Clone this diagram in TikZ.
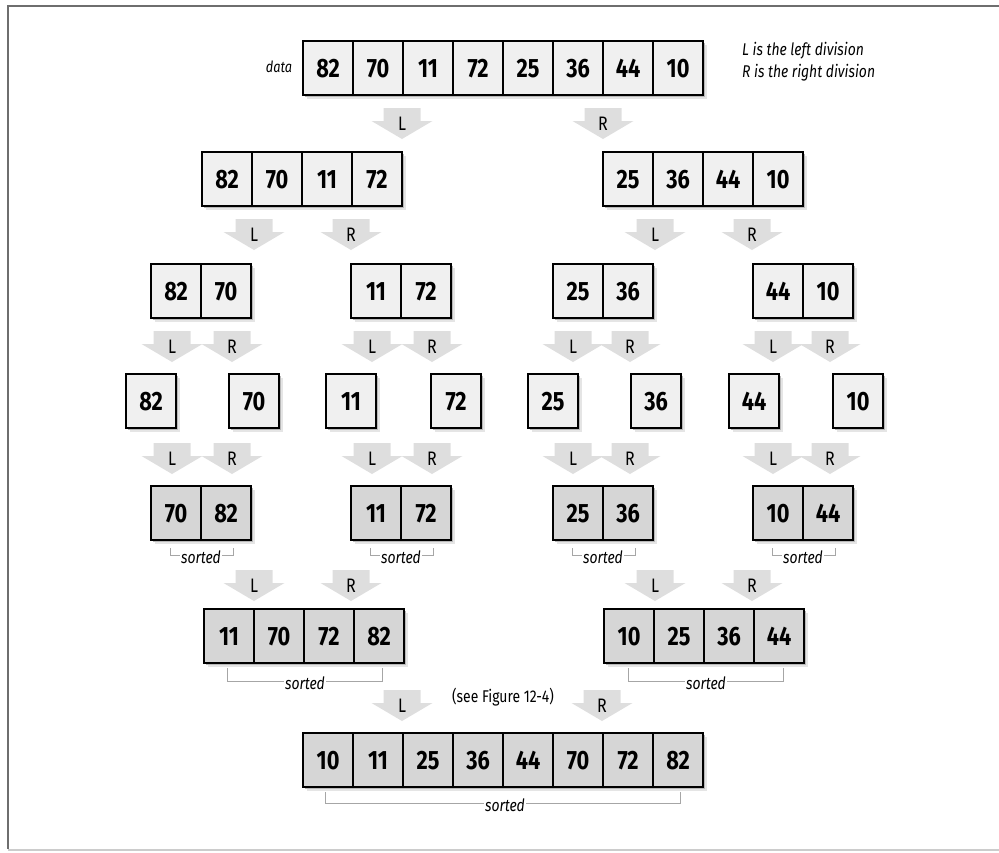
\documentclass[tikz,border=0pt]{standalone}
\usepackage{fontspec}
\setmainfont{Fira Sans}[FakeStretch=0.82]
\usepackage{xcolor}
\usetikzlibrary{positioning}

\definecolor{cellgray}{HTML}{F0F0F0}
\definecolor{sortgray}{HTML}{D6D6D6}
\definecolor{arrowgray}{HTML}{DEDEDE}
\definecolor{framegray}{HTML}{6E6E6E}

\tikzset{
  cell/.style={draw, line width=2.2pt, minimum width=50pt, minimum height=54pt,
    inner sep=0pt, anchor=north west, font=\fontsize{26.5}{26.5}\selectfont\bfseries},
  arrowlabel/.style={inner sep=0pt, font=\fontsize{19.5}{19.5}\selectfont},
  sortline/.style={draw=black!35, line width=0.9pt},
  sortlabel/.style={fill=white, inner sep=1pt, font=\fontsize{17}{17}\selectfont\itshape},
  legendtext/.style={anchor=west, inner sep=0pt, font=\fontsize{17}{17}\selectfont\itshape},
  pics/splitarrow/.style={code={
    \fill[arrowgray] (-18.5,0) -- (18.5,0) -- (18.5,13) -- (30.5,13) -- (0,31)
      -- (-30.5,13) -- (-18.5,13) -- cycle;
    \node[arrowlabel] (-lbl) at (0,16) {#1};
  }}
}

% one array: name, left x, top y, fill, entries
\newcommand{\cellrow}[5]{%
  \foreach \v [count=\i] in {#5}
    \fill[black!10] (#2+50*\i-50+5, #3+5) rectangle ++(50,54);
  \foreach \v [count=\i] in {#5}
    \fill[black!28] (#2+50*\i-50+3, #3+3) rectangle ++(50,54);
  \foreach \v [count=\i] in {#5}
    \node[cell, fill=#4] (#1-\i) at (#2+50*\i-50, #3) {\v};
}

\begin{document}
\begin{tikzpicture}[x=1pt, y=-1pt]
  \useasboundingbox (0,0) rectangle (999,852);
  % frame
  \draw[framegray, line width=2.5pt] (999,6) -- (8,6) -- (8,849);
  \draw[black!20, line width=2pt] (8,850) -- (999,850);

  % unsorted data
  \node[font=\fontsize{15.5}{15.5}\selectfont\itshape] (datalbl) at (279,67) {data};
  \cellrow{r1}{302}{40}{cellgray}{82,70,11,72,25,36,44,10}
  \node[legendtext] (legendL) at (742,51) {L is the left division};
  \node[legendtext] (legendR) at (742,73) {R is the right division};
  \pic (a1l) at (402,108) {splitarrow=L};
  \pic (a1r) at (603,108) {splitarrow=R};

  % halves
  \cellrow{r2a}{201}{151}{cellgray}{82,70,11,72}
  \cellrow{r2b}{602}{151}{cellgray}{25,36,44,10}
  \foreach \x/\s [count=\k] in {254/L,351/R,655/L,752/R}
    \pic (a2-\k) at (\x,219) {splitarrow=\s};

  % quarters
  \cellrow{r3a}{150}{263}{cellgray}{82,70}
  \cellrow{r3b}{350}{263}{cellgray}{11,72}
  \cellrow{r3c}{552}{263}{cellgray}{25,36}
  \cellrow{r3d}{752}{263}{cellgray}{44,10}
  \foreach \x/\s [count=\k] in {172/L,232/R,372/L,432/R,573/L,630/R,773/L,830/R}
    \pic (a3-\k) at (\x,331) {splitarrow=\s};

  % single elements
  \cellrow{r4a}{125}{373}{cellgray}{82}
  \cellrow{r4b}{228}{373}{cellgray}{70}
  \cellrow{r4c}{325}{373}{cellgray}{11}
  \cellrow{r4d}{430}{373}{cellgray}{72}
  \cellrow{r4e}{527}{373}{cellgray}{25}
  \cellrow{r4f}{630}{373}{cellgray}{36}
  \cellrow{r4g}{728}{373}{cellgray}{44}
  \cellrow{r4h}{832}{373}{cellgray}{10}
  \foreach \x/\s [count=\k] in {172/L,232/R,372/L,432/R,573/L,630/R,773/L,830/R}
    \pic (a4-\k) at (\x,443) {splitarrow=\s};

  % merged pairs
  \cellrow{r5a}{150}{485}{sortgray}{70,82}
  \cellrow{r5b}{350}{485}{sortgray}{11,72}
  \cellrow{r5c}{552}{485}{sortgray}{25,36}
  \cellrow{r5d}{752}{485}{sortgray}{10,44}
  \foreach \x in {170,370,572,772} {
    \draw[sortline] (\x,548) -- (\x,555) -- (\x+63,555) -- (\x+63,548);
    \node[sortlabel] (s5-\x) at (\x+31,557) {sorted};
  }
  \foreach \x/\s [count=\k] in {254/L,351/R,655/L,752/R}
    \pic (a5-\k) at (\x,570) {splitarrow=\s};

  % merged halves
  \cellrow{r6a}{203}{608}{sortgray}{11,70,72,82}
  \cellrow{r6b}{603}{608}{sortgray}{10,25,36,44}
  \foreach \x in {227,628} {
    \draw[sortline] (\x,668) -- (\x,681) -- (\x+155,681) -- (\x+155,668);
    \node[sortlabel] (s6-\x) at (\x+78,683) {sorted};
  }
  \pic (a6l) at (402,690) {splitarrow=L};
  \pic (a6r) at (602,690) {splitarrow=R};
  \node[font=\fontsize{17}{17}\selectfont] (seefig) at (503,697) {(see Figure 12-4)};

  % final result
  \cellrow{r7}{302}{732}{sortgray}{10,11,25,36,44,70,72,82}
  \draw[sortline] (325,792) -- (325,803) -- (680,803) -- (680,792);
  \node[sortlabel] (s7) at (505,805) {sorted};
\end{tikzpicture}
\end{document}
